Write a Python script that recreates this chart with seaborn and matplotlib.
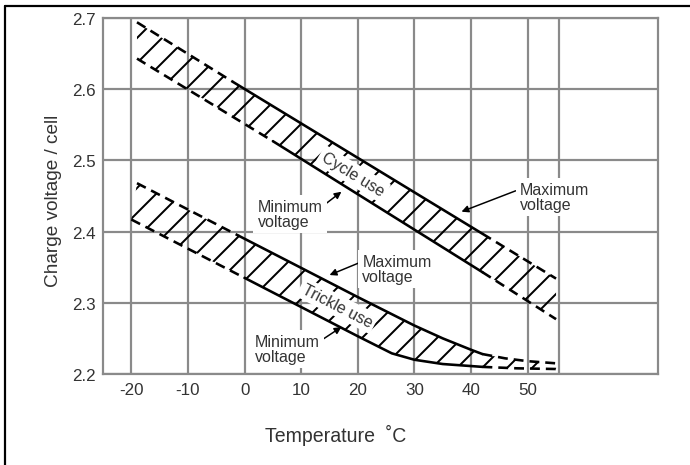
import numpy as np
import matplotlib.pyplot as plt
from matplotlib.lines import Line2D
import seaborn as sns

# values (temperature in degC, volts per cell)
temp_ticks = [-20, -10, 0, 10, 20, 30, 40, 50]
volt_ticks = [2.2, 2.3, 2.4, 2.5, 2.6, 2.7]

# cycle use band
cycle_max_t = [-19, -2, 42, 55]
cycle_max_v = [2.694, 2.610, 2.397, 2.334]
cycle_max_solid = (-2, 42)
cycle_min_t = [-19, 5, 42, 55]
cycle_min_v = [2.643, 2.527, 2.343, 2.277]
cycle_min_solid = (5, 42)

# trickle use band
trickle_max_t = [-19, -1, 10, 20, 30, 35, 40, 42, 46, 50, 55]
trickle_max_v = [2.468, 2.394, 2.349, 2.308, 2.268, 2.250, 2.234, 2.228, 2.222, 2.218, 2.215]
trickle_max_solid = (-1, 42)
trickle_min_t = [-20, 0, 10, 20, 24, 26, 30, 35, 42, 48, 55]
trickle_min_v = [2.417, 2.335, 2.294, 2.253, 2.237, 2.229, 2.220, 2.214, 2.210, 2.208, 2.207]
trickle_min_solid = (0, 42)

DPI = 150
PT = 72 / DPI          # points per output pixel
GRID = '#8a8a8a'
TXT = '#333333'
LW = 2.6 * PT
DASH = (0, (3.8, 2.3))

sns.set_theme(style='whitegrid')
plt.rcParams['font.family'] = ['Liberation Sans', 'DejaVu Sans']
plt.rcParams['hatch.linewidth'] = 2.0 * PT


def draw_edge(ax, t, v, solid):
    """Draw one boundary: dashed outside the solid range, solid inside"""
    t = np.asarray(t, dtype=float)
    v = np.asarray(v, dtype=float)
    lo, hi = solid
    parts = [(t <= lo, DASH), ((t >= lo) & (t <= hi), '-'), (t >= hi, DASH)]
    for mask, ls in parts:
        if mask.sum() > 1:
            sns.lineplot(x=t[mask], y=v[mask], ax=ax, color='black', lw=LW,
                         linestyle=ls, sort=False, zorder=4)


def hatch_band(ax, t_up, v_up, t_lo, v_lo):
    xs = np.concatenate([t_up, t_lo[::-1]])
    ys = np.concatenate([v_up, v_lo[::-1]])
    ax.fill(xs, ys, facecolor='none', edgecolor='black', hatch='//', linewidth=0, zorder=3)


def slope_angle(ax, t, v):
    p1 = ax.transData.transform((t[0], v[0]))
    p2 = ax.transData.transform((t[-1], v[-1]))
    return np.degrees(np.arctan2(p2[1] - p1[1], p2[0] - p1[0]))


fig = plt.figure(figsize=(690 / DPI, 466 / DPI), dpi=DPI)
ax = fig.add_axes([103 / 690, 1 - 375 / 466, 555 / 690, 356 / 466])
ax.set_xlim(-25, 73)
ax.set_ylim(2.2, 2.7)
ax.set_xticks(temp_ticks)
ax.set_xticks([55.5], minor=True)
ax.set_yticks(volt_ticks)
ax.set_xticklabels([str(t) for t in temp_ticks])
ax.set_yticklabels([f'{v:.1f}' for v in volt_ticks])
ax.grid(True, which='both', color=GRID, lw=2.2 * PT)
ax.tick_params(which='both', length=0, labelsize=17 * PT, labelcolor=TXT)
ax.tick_params(axis='x', pad=8 * PT)
ax.tick_params(axis='y', pad=7 * PT)
for sp in ax.spines.values():
    sp.set_color(GRID)
    sp.set_linewidth(2.2 * PT)
ax.set_facecolor('white')

# bands
hatch_band(ax, cycle_max_t, cycle_max_v, cycle_min_t, cycle_min_v)
hatch_band(ax, trickle_max_t, trickle_max_v, trickle_min_t, trickle_min_v)
draw_edge(ax, cycle_max_t, cycle_max_v, cycle_max_solid)
draw_edge(ax, cycle_min_t, cycle_min_v, cycle_min_solid)
draw_edge(ax, trickle_max_t, trickle_max_v, trickle_max_solid)
draw_edge(ax, trickle_min_t, trickle_min_v, trickle_min_solid)

# band labels along the slope
box = dict(facecolor='white', edgecolor='none', pad=1.5)
ax.text(19.1, 2.481, 'Cycle use', rotation=slope_angle(ax, cycle_max_t, cycle_max_v),
        rotation_mode='anchor', ha='center', va='center', fontsize=16 * PT,
        color=TXT, bbox=box, zorder=5)
ax.text(16.4, 2.296, 'Trickle use', rotation=slope_angle(ax, trickle_max_t[:4], trickle_max_v[:4]),
        rotation_mode='anchor', ha='center', va='center', fontsize=16 * PT,
        color=TXT, bbox=box, zorder=5)

# arrow callouts
callouts = [
    ('Minimum\nvoltage', (17.1, 2.456), (2.3, 2.425), (1, 0.75)),
    ('Maximum\nvoltage', (38.3, 2.428), (48.6, 2.449), (0, 0.75)),
    ('Maximum\nvoltage', (15.0, 2.339), (20.8, 2.3475), (0, 0.75)),
    ('Minimum\nvoltage', (17.1, 2.266), (1.75, 2.235), (1, 0.75)),
]
for label, head, pos, rel in callouts:
    ax.annotate(label, xy=head, xytext=pos, ha='left', va='center',
                fontsize=16 * PT, color=TXT, linespacing=1.0,
                bbox=dict(facecolor='white', edgecolor='none', pad=2),
                arrowprops=dict(arrowstyle='-|>', color='black', lw=1.5 * PT,
                                mutation_scale=14 * PT, relpos=rel,
                                shrinkA=0, shrinkB=0),
                zorder=6)

ax.set_xlabel('Temperature  \u02daC', fontsize=19.5 * PT, color=TXT)
ax.xaxis.set_label_coords(0.42, -0.14)
ax.set_ylabel('Charge voltage / cell', fontsize=19 * PT, color=TXT)
ax.yaxis.set_label_coords(-0.074, 0.49)

# frame around the figure (left and top edges)
fig.add_artist(Line2D([5 / 690, 5 / 690], [0, 1 - 7 / 466], color='black', lw=2.2 * PT))
fig.add_artist(Line2D([5 / 690, 1], [1 - 7 / 466, 1 - 7 / 466], color='black', lw=2.2 * PT))

fig.savefig('out.png', dpi=DPI, facecolor='white')
